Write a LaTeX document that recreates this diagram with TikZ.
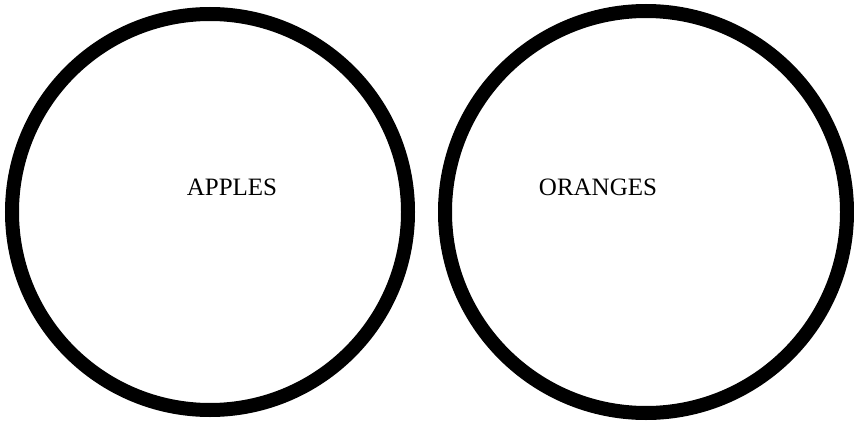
\documentclass[tikz,border=0pt]{standalone}
\usepackage{fontspec}
\setmainfont{Liberation Serif}
\usetikzlibrary{positioning}
\tikzset{
  ring/.style={draw=black, line width=14pt, circle, inner sep=0pt},
  lbl/.style={font=\fontsize{25}{28}\selectfont, anchor=center},
}

\begin{document}
\begin{tikzpicture}[x=1pt,y=1pt]
\useasboundingbox (0,0) rectangle (854,424);

% ------------------------------------------------- apples
\node[ring, minimum size=396pt] (apples) at (210,212) {};
\node[lbl] (applesl) at (232,237) {APPLES};

% ------------------------------------------------- oranges
\node[ring, minimum size=402pt] (oranges) at (646,212) {};
\node[lbl] (orangesl) at (598,237) {ORANGES};

\end{tikzpicture}
\end{document}
